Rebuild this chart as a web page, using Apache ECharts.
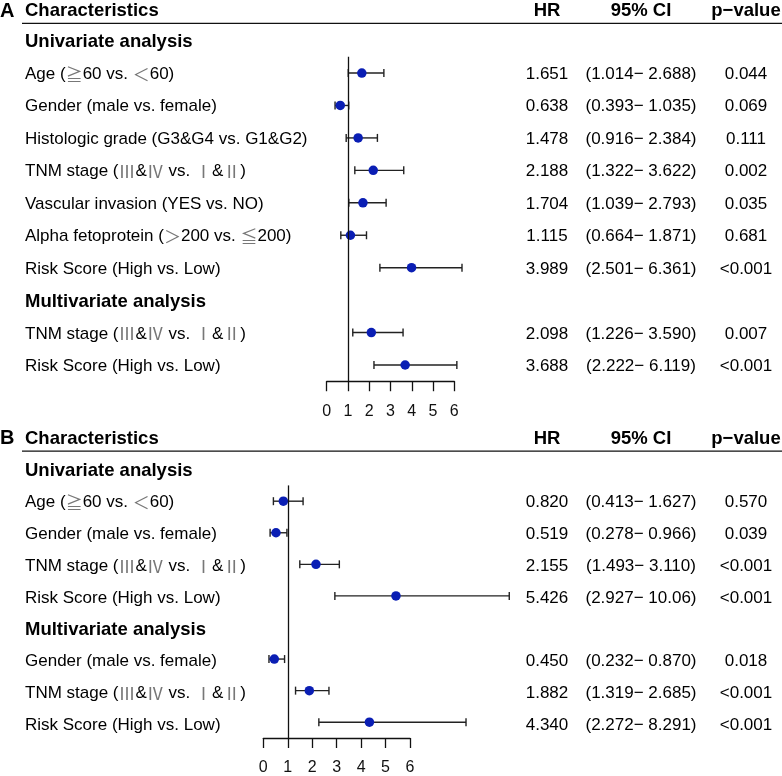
<!DOCTYPE html>
<html>
<head>
<meta charset="utf-8">
<title>Forest plot</title>
<script src="https://cdn.jsdelivr.net/npm/echarts@6/dist/echarts.min.js"></script>
<style>
  html, body { margin: 0; padding: 0; background: #fff; }
  #chart { width: 782px; height: 776px; }
</style>
</head>
<body>
<div id="chart"></div>
<script>
// ---- data: panel A ----
var labelsA = [
  'Age (≧60 vs. ＜60)',
  'Gender (male vs. female)',
  'Histologic grade (G3&G4 vs. G1&G2)',
  'TNM stage (Ⅲ&Ⅳ vs. Ⅰ&Ⅱ)',
  'Vascular invasion (YES vs. NO)',
  'Alpha fetoprotein (＞200 vs. ≦200)',
  'Risk Score (High vs. Low)',
  'TNM stage (Ⅲ&Ⅳ vs. Ⅰ&Ⅱ)',
  'Risk Score (High vs. Low)'
];
var hrA = [1.651, 0.638, 1.478, 2.188, 1.704, 1.115, 3.989, 2.098, 3.688];
var loA = [1.014, 0.393, 0.916, 1.322, 1.039, 0.664, 2.501, 1.226, 2.222];
var hiA = [2.688, 1.035, 2.384, 3.622, 2.793, 1.871, 6.361, 3.590, 6.119];
var pA = ['0.044', '0.069', '0.111', '0.002', '0.035', '0.681', '<0.001', '0.007', '<0.001'];
var uniCountA = 7;

// ---- data: panel B ----
var labelsB = [
  'Age (≧60 vs. ＜60)',
  'Gender (male vs. female)',
  'TNM stage (Ⅲ&Ⅳ vs. Ⅰ&Ⅱ)',
  'Risk Score (High vs. Low)',
  'Gender (male vs. female)',
  'TNM stage (Ⅲ&Ⅳ vs. Ⅰ&Ⅱ)',
  'Risk Score (High vs. Low)'
];
var hrB = [0.820, 0.519, 2.155, 5.426, 0.450, 1.882, 4.340];
var loB = [0.413, 0.278, 1.493, 2.927, 0.232, 1.319, 2.272];
var hiB = [1.627, 0.966, 3.110, 10.06, 0.870, 2.685, 8.291];
var pB = ['0.570', '0.039', '<0.001', '<0.001', '0.018', '<0.001', '<0.001'];
var uniCountB = 4;

var axisTicks = [0, 1, 2, 3, 4, 5, 6];
var headers = ['Characteristics', 'HR', '95% CI', 'p−value'];
var sections = ['Univariate analysis', 'Multivariate analysis'];

// ---- layout ----
var FONT = "'Liberation Sans', Arial, 'Noto Sans CJK SC', sans-serif";
var CJK = "'Noto Sans CJK SC', sans-serif";
var DOT = '#0a1eb4';
var COL = { label: 25, hr: 547, ci: 641, p: 746, ruleStart: 22, ruleEnd: 782 };

var panels = [
  { tag: 'A', labels: labelsA, hr: hrA, lo: loA, hi: hiA, p: pA, uni: uniCountA,
    y0: 40.6, step: 32.44, x0: 326.7, unit: 21.27, rule: -0.53, headRow: -0.9 },
  { tag: 'B', labels: labelsB, hr: hrB, lo: loB, hi: hiB, p: pB, uni: uniCountB,
    y0: 469.5, step: 31.8, x0: 263.3, unit: 24.45, rule: -0.58, headRow: -0.97 }
];

function fmt(v) {
  return v >= 10 ? v.toFixed(2) : v.toFixed(3);
}

// wrap the full-width symbols in a rich-text tag so they come out grey
function richLabel(s) {
  return s.replace(/([≧≦＜＞ⅠⅡⅢⅣ])/g, '{c|$1}');
}

var grid = [], xAxis = [], yAxis = [], series = [];

panels.forEach(function (pn, k) {
  var n = pn.labels.length;
  var lastRow = n + 1;
  var rowOf = function (i) { return i < pn.uni ? i + 1 : i + 2; };
  var tMin = axisTicks[0], tMax = axisTicks[axisTicks.length - 1];

  // forest grid: rows 0.5 .. lastRow + 0.5
  grid.push({
    left: pn.x0, top: pn.y0 + pn.step * 0.5,
    width: pn.unit * (tMax - tMin), height: pn.step * lastRow
  });
  // table grid (full width)
  grid.push({
    left: 0, top: pn.y0 - pn.step, width: 782, height: pn.step * (lastRow + 1.5)
  });
  var fg = 2 * k, tg = 2 * k + 1;

  xAxis.push({
    gridIndex: fg, type: 'value', min: tMin, max: tMax, interval: 1,
    axisLine: { show: true, lineStyle: { color: '#111', width: 1.3 } },
    axisTick: { show: true, length: 10, lineStyle: { color: '#111', width: 1.3 } },
    axisLabel: { show: true, margin: 22, fontSize: 16, color: '#111', fontFamily: FONT },
    splitLine: { show: false }
  });
  yAxis.push({
    gridIndex: fg, type: 'value', min: 0.5, max: lastRow + 0.5, inverse: true, show: false
  });
  xAxis.push({ gridIndex: tg, type: 'value', min: 0, max: 782, show: false });
  yAxis.push({ gridIndex: tg, type: 'value', min: -1, max: lastRow + 0.5, inverse: true, show: false });

  var xi = 2 * k, yi = 2 * k;

  // confidence intervals
  series.push({
    type: 'custom', xAxisIndex: xi, yAxisIndex: yi, clip: false, silent: true,
    data: pn.lo.map(function (lo, i) { return [lo, pn.hi[i], rowOf(i)]; }),
    encode: { x: [0, 1], y: 2 },
    renderItem: function (params, api) {
      var a = api.coord([api.value(0), api.value(2)]);
      var b = api.coord([api.value(1), api.value(2)]);
      var c = 4;
      var st = { stroke: '#222', lineWidth: 1.4 };
      return {
        type: 'group', children: [
          { type: 'line', shape: { x1: a[0], y1: a[1], x2: b[0], y2: b[1] }, style: st },
          { type: 'line', shape: { x1: a[0], y1: a[1] - c, x2: a[0], y2: a[1] + c }, style: st },
          { type: 'line', shape: { x1: b[0], y1: b[1] - c, x2: b[0], y2: b[1] + c }, style: st }
        ]
      };
    }
  });

  // hazard ratio points + reference line at HR = 1
  series.push({
    type: 'scatter', xAxisIndex: xi, yAxisIndex: yi, clip: false, silent: true,
    symbolSize: 9.5, itemStyle: { color: DOT, opacity: 1 },
    data: pn.hr.map(function (v, i) { return [v, rowOf(i)]; }),
    markLine: {
      silent: true, symbol: 'none', label: { show: false },
      lineStyle: { color: '#111', width: 1.3, type: 'solid' },
      data: [{ xAxis: 1 }]
    },
    z: 3
  });

  // text table
  var bold = 'bold 18.5px ' + FONT, reg = '17px ' + FONT;
  var texts = [];
  texts.push({ x: 0, row: pn.headRow, text: pn.tag, font: 'bold 20px ' + FONT, align: 'left' });
  texts.push({ x: COL.label, row: pn.headRow, text: headers[0], font: bold, align: 'left' });
  texts.push({ x: COL.hr, row: pn.headRow, text: headers[1], font: bold, align: 'center' });
  texts.push({ x: COL.ci, row: pn.headRow, text: headers[2], font: bold, align: 'center' });
  texts.push({ x: COL.p, row: pn.headRow, text: headers[3], font: bold, align: 'center' });
  texts.push({ x: COL.label, row: 0.04, text: sections[0], font: bold, align: 'left' });
  texts.push({ x: COL.label, row: pn.uni + 1.04, text: sections[1], font: bold, align: 'left' });
  pn.labels.forEach(function (lab, i) {
    var r = rowOf(i) + 0.04;
    texts.push({ x: COL.label, row: r, text: richLabel(lab), font: reg, align: 'left' });
    texts.push({ x: COL.hr, row: r, text: pn.hr[i].toFixed(3), font: reg, align: 'center' });
    texts.push({ x: COL.ci, row: r, text: '(' + fmt(pn.lo[i]) + '− ' + fmt(pn.hi[i]) + ')', font: reg, align: 'center' });
    texts.push({ x: COL.p, row: r, text: pn.p[i], font: reg, align: 'center' });
  });

  series.push({
    type: 'custom', xAxisIndex: xi + 1, yAxisIndex: yi + 1, clip: false, silent: true,
    data: texts.map(function (t) { return [t.x, t.row]; }),
    encode: { x: 0, y: 1 },
    renderItem: function (params, api) {
      var t = texts[params.dataIndex];
      var pt = api.coord([api.value(0), api.value(1)]);
      return {
        type: 'text', x: pt[0], y: pt[1],
        style: {
          text: t.text, font: t.font, fill: '#000', align: t.align, verticalAlign: 'middle',
          rich: { c: { font: '17px ' + CJK, fill: '#777' } }
        }
      };
    }
  });

  // rule under the header row
  series.push({
    type: 'line', xAxisIndex: xi + 1, yAxisIndex: yi + 1, silent: true,
    symbol: 'none', lineStyle: { color: '#111', width: 1.3 },
    data: [[COL.ruleStart, pn.rule], [COL.ruleEnd, pn.rule]]
  });
});

var chart = echarts.init(document.getElementById('chart'), null, { renderer: 'canvas' });
chart.setOption({
  animation: false,
  backgroundColor: '#fff',
  grid: grid,
  xAxis: xAxis,
  yAxis: yAxis,
  series: series
});
</script>
</body>
</html>
